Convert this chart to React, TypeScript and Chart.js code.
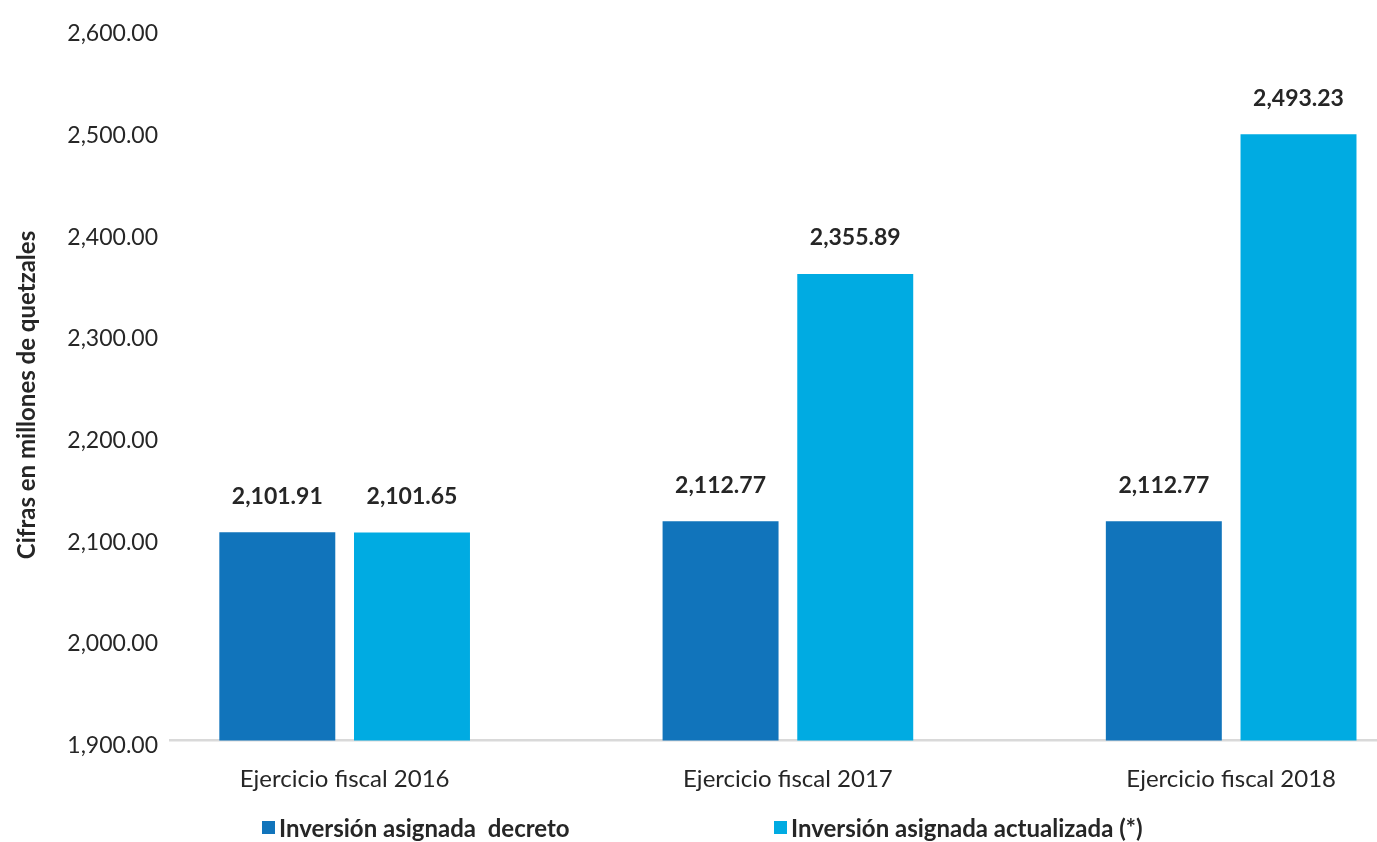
import { useEffect, useRef } from "react";
import { Chart, registerables } from "chart.js";

Chart.register(...registerables);

const categories = ["Ejercicio fiscal 2016", "Ejercicio fiscal 2017", "Ejercicio fiscal 2018"];
const seriesNames = ["Inversión asignada  decreto", "Inversión asignada actualizada (*)"];
const decreto = [2101.91, 2112.77, 2112.77];
const actualizada = [2101.65, 2355.89, 2493.23];
const yTicks = [1900, 2000, 2100, 2200, 2300, 2400, 2500, 2600];
const yTitle = "Cifras en millones de quetzales";

const colors = ["#1174BB", "#00ABE2"];
const textColor = "#262626";
const FONT = "Lato";

const fmt = (v: number) =>
  v.toLocaleString("en-US", { minimumFractionDigits: 2, maximumFractionDigits: 2 });

const valueLabels = {
  id: "valueLabels",
  afterDatasetsDraw(chart: any) {
    const { ctx } = chart;
    ctx.save();
    ctx.font = `bold 23px ${FONT}`;
    ctx.fillStyle = textColor;
    ctx.textAlign = "center";
    ctx.textBaseline = "middle";
    chart.data.datasets.forEach((ds: any, di: number) => {
      const meta = chart.getDatasetMeta(di);
      meta.data.forEach((bar: any, i: number) => {
        ctx.fillText(fmt(ds.data[i].y), bar.x, bar.y - 36);
      });
    });
    ctx.restore();
  },
};

const extras = {
  id: "extras",
  afterDraw(chart: any) {
    const { ctx } = chart;
    ctx.save();
    // y-axis title
    ctx.translate(27, 395);
    ctx.rotate(-Math.PI / 2);
    ctx.font = `bold 24px ${FONT}`;
    ctx.fillStyle = textColor;
    ctx.textAlign = "center";
    ctx.textBaseline = "middle";
    ctx.fillText(yTitle, 0, 0);
    ctx.restore();

    // legend
    ctx.save();
    ctx.font = `bold 24px ${FONT}`;
    ctx.textAlign = "left";
    ctx.textBaseline = "middle";
    chart.data.datasets.forEach((ds: any, i: number) => {
      const x0 = 262 + i * 512;
      ctx.fillStyle = ds.backgroundColor;
      ctx.fillRect(x0, 821, 13, 13);
      ctx.fillStyle = textColor;
      ctx.fillText(ds.label, x0 + 17, 829);
    });
    ctx.restore();
  },
};

export default function App() {
  const ref = useRef<HTMLCanvasElement>(null);

  useEffect(() => {
    if (!ref.current) return;
    const series = [decreto, actualizada];
    const chart = new Chart(ref.current, {
      type: "bar",
      data: {
        datasets: series.map((s, di) => ({
          label: seriesNames[di],
          data: s.map((v, i) => ({ x: i, y: v })),
          backgroundColor: colors[di],
          borderWidth: 0,
          categoryPercentage: 0.6077,
          barPercentage: 0.861,
        })),
      },
      options: {
        responsive: false,
        animation: false,
        layout: { padding: { top: 22, left: 0, right: 0, bottom: 0 } },
        plugins: { legend: { display: false }, tooltip: { enabled: false } },
        scales: {
          x: {
            type: "linear",
            offset: false,
            min: -0.394,
            max: 2.329,
            z: 1,
            afterBuildTicks: (s: any) => {
              s.ticks = categories.map((_, i) => ({ value: i }));
            },
            afterFit: (s: any) => {
              s.height = 101.5;
            },
            grid: { display: false, drawTicks: false, offset: false },
            border: { display: true, color: "#d9d9d9", width: 2.5 },
            ticks: {
              font: { family: FONT, size: 24 },
              color: textColor,
              padding: 24,
              maxRotation: 0,
              autoSkip: false,
              callback: (v: any) => categories[v] ?? "",
            },
          },
          y: {
            min: 1897,
            max: 2600,
            afterBuildTicks: (s: any) => {
              s.ticks = yTicks.map((v) => ({ value: v }));
            },
            afterFit: (s: any) => {
              s.width = 170;
            },
            grid: { display: false, drawTicks: false },
            border: { display: false },
            ticks: {
              font: { family: FONT, size: 23 },
              color: textColor,
              padding: 12,
              labelOffset: 8,
              callback: (v: any) => fmt(Number(v)),
            },
          },
        },
      },
      plugins: [valueLabels, extras],
    } as any);
    return () => chart.destroy();
  }, []);

  return (
    <div style={{ position: "absolute", left: 0, top: 0, width: 1377, height: 842, background: "#fff" }}>
      <canvas ref={ref} width={1377} height={842} style={{ display: "block" }} />
    </div>
  );
}
